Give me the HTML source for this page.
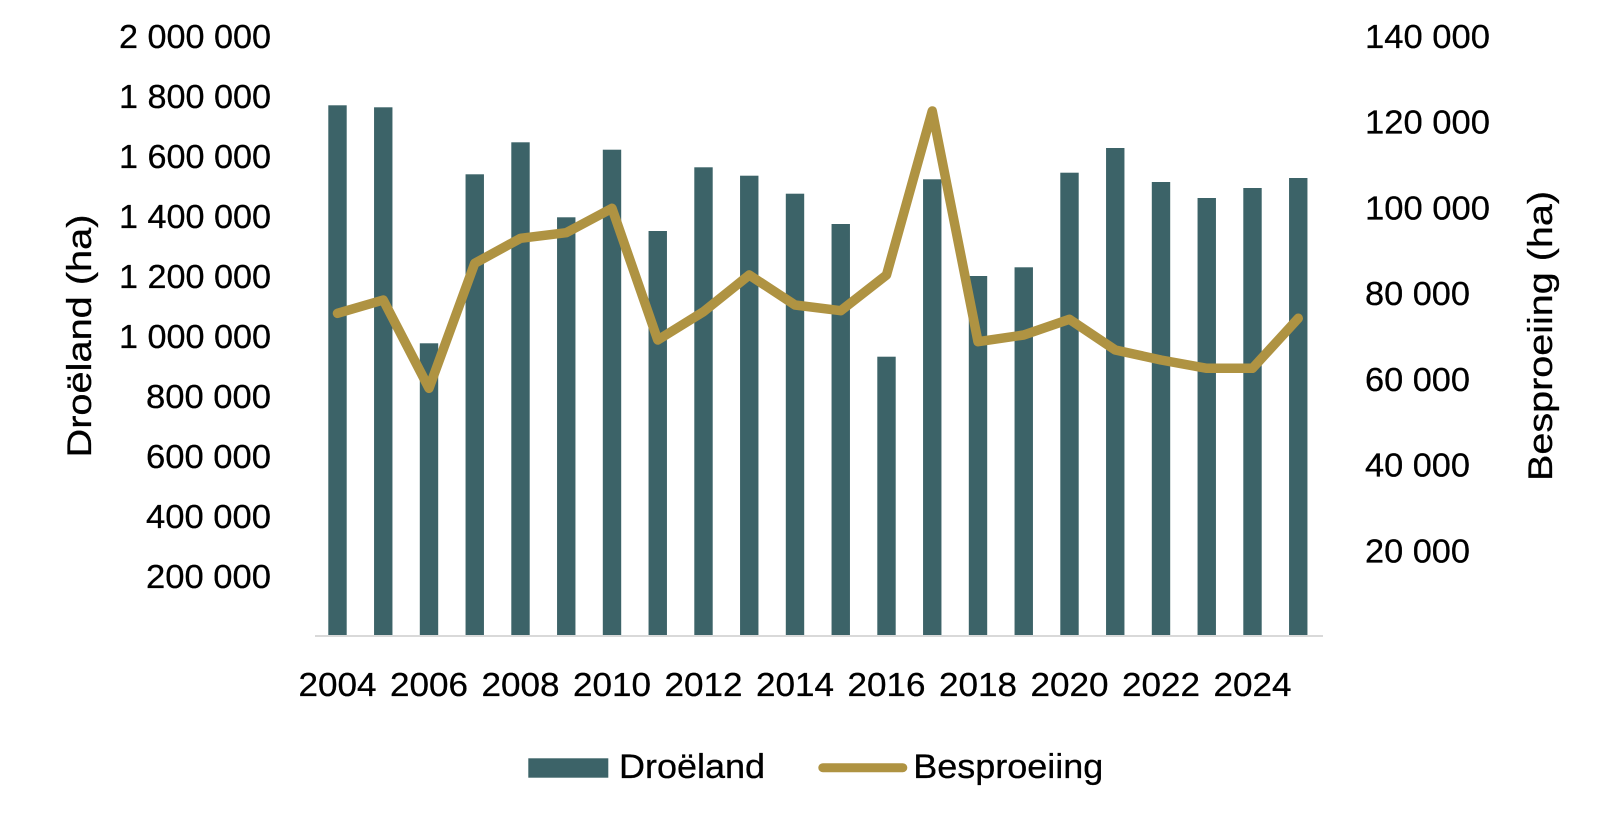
<!DOCTYPE html>
<html>
<head>
<meta charset="utf-8">
<style>
  html, body { margin: 0; padding: 0; background: #ffffff; }
  svg { display: block; }
  text { font-family: "Liberation Sans", "DejaVu Sans", sans-serif; fill: #000; stroke: #000; stroke-width: 0.3px; }
</style>
</head>
<body>
<svg width="1612" height="824" viewBox="0 0 1612 824" xmlns="http://www.w3.org/2000/svg">
  <rect x="0" y="0" width="1612" height="824" fill="#ffffff"/>

  <!-- Bars -->
  <g fill="#3C6368">
    <rect x="328.3" y="105.3" width="18.4" height="530.7"/>
    <rect x="374.05" y="107.3" width="18.4" height="528.7"/>
    <rect x="419.8" y="343.3" width="18.4" height="292.7"/>
    <rect x="465.55" y="174.3" width="18.4" height="461.7"/>
    <rect x="511.3" y="142.3" width="18.4" height="493.7"/>
    <rect x="557.05" y="217.3" width="18.4" height="418.7"/>
    <rect x="602.8" y="149.7" width="18.4" height="486.3"/>
    <rect x="648.55" y="231" width="18.4" height="405"/>
    <rect x="694.3" y="167.3" width="18.4" height="468.7"/>
    <rect x="740.05" y="175.7" width="18.4" height="460.3"/>
    <rect x="785.8" y="193.7" width="18.4" height="442.3"/>
    <rect x="831.55" y="224" width="18.4" height="412"/>
    <rect x="877.3" y="356.7" width="18.4" height="279.3"/>
    <rect x="923.05" y="179.3" width="18.4" height="456.7"/>
    <rect x="968.8" y="276" width="18.4" height="360"/>
    <rect x="1014.55" y="267.3" width="18.4" height="368.7"/>
    <rect x="1060.3" y="172.7" width="18.4" height="463.3"/>
    <rect x="1106.05" y="148" width="18.4" height="488"/>
    <rect x="1151.8" y="182" width="18.4" height="454"/>
    <rect x="1197.55" y="198" width="18.4" height="438"/>
    <rect x="1243.3" y="188" width="18.4" height="448"/>
    <rect x="1289.05" y="178" width="18.4" height="458"/>
  </g>

  <!-- X axis line -->
  <line x1="315" y1="636" x2="1323" y2="636" stroke="#d9d9d9" stroke-width="2"/>

  <!-- Line series -->
  <polyline fill="none" stroke="#AF9342" stroke-width="9.5" stroke-linejoin="round" stroke-linecap="round"
    points="337.5,313.3 383.25,300 429,388.3 474.75,263.3 520.5,238.3 566.25,232.7 612,208.3 657.75,340 703.5,311.7 749.25,275 795,305 840.75,310.7 886.5,275 932.25,111 978,341.7 1023.75,335 1069.5,319.3 1115.25,350 1161,360 1206.75,368.3 1252.5,368.3 1298.25,318.3"/>

  <!-- Left Y tick labels -->
  <g font-size="33.5" text-anchor="end">
    <text x="271" y="48" textLength="152" lengthAdjust="spacingAndGlyphs">2 000 000</text>
    <text x="271" y="108" textLength="152" lengthAdjust="spacingAndGlyphs">1 800 000</text>
    <text x="271" y="168" textLength="152" lengthAdjust="spacingAndGlyphs">1 600 000</text>
    <text x="271" y="228" textLength="152" lengthAdjust="spacingAndGlyphs">1 400 000</text>
    <text x="271" y="288" textLength="152" lengthAdjust="spacingAndGlyphs">1 200 000</text>
    <text x="271" y="348" textLength="152" lengthAdjust="spacingAndGlyphs">1 000 000</text>
    <text x="271" y="408" textLength="125" lengthAdjust="spacingAndGlyphs">800 000</text>
    <text x="271" y="468" textLength="125" lengthAdjust="spacingAndGlyphs">600 000</text>
    <text x="271" y="528" textLength="125" lengthAdjust="spacingAndGlyphs">400 000</text>
    <text x="271" y="588" textLength="125" lengthAdjust="spacingAndGlyphs">200 000</text>
  </g>

  <!-- Right Y tick labels -->
  <g font-size="33.5" text-anchor="start">
    <text x="1365" y="48" textLength="125" lengthAdjust="spacingAndGlyphs">140 000</text>
    <text x="1365" y="133.7" textLength="125" lengthAdjust="spacingAndGlyphs">120 000</text>
    <text x="1365" y="219.4" textLength="125" lengthAdjust="spacingAndGlyphs">100 000</text>
    <text x="1365" y="305.1" textLength="105" lengthAdjust="spacingAndGlyphs">80 000</text>
    <text x="1365" y="390.9" textLength="105" lengthAdjust="spacingAndGlyphs">60 000</text>
    <text x="1365" y="476.6" textLength="105" lengthAdjust="spacingAndGlyphs">40 000</text>
    <text x="1365" y="562.3" textLength="105" lengthAdjust="spacingAndGlyphs">20 000</text>
  </g>

  <!-- X tick labels -->
  <g font-size="33.5" text-anchor="middle">
    <text x="337.5" y="696" textLength="78" lengthAdjust="spacingAndGlyphs">2004</text>
    <text x="429" y="696" textLength="78" lengthAdjust="spacingAndGlyphs">2006</text>
    <text x="520.5" y="696" textLength="78" lengthAdjust="spacingAndGlyphs">2008</text>
    <text x="612" y="696" textLength="78" lengthAdjust="spacingAndGlyphs">2010</text>
    <text x="703.5" y="696" textLength="78" lengthAdjust="spacingAndGlyphs">2012</text>
    <text x="795" y="696" textLength="78" lengthAdjust="spacingAndGlyphs">2014</text>
    <text x="886.5" y="696" textLength="78" lengthAdjust="spacingAndGlyphs">2016</text>
    <text x="978" y="696" textLength="78" lengthAdjust="spacingAndGlyphs">2018</text>
    <text x="1069.5" y="696" textLength="78" lengthAdjust="spacingAndGlyphs">2020</text>
    <text x="1161" y="696" textLength="78" lengthAdjust="spacingAndGlyphs">2022</text>
    <text x="1252.5" y="696" textLength="78" lengthAdjust="spacingAndGlyphs">2024</text>
  </g>

  <!-- Axis titles -->
  <text font-size="34.5" text-anchor="middle" transform="translate(91,336) rotate(-90)" textLength="243" lengthAdjust="spacingAndGlyphs">Droëland (ha)</text>
  <text font-size="34.5" text-anchor="middle" transform="translate(1552,336) rotate(-90)" textLength="290" lengthAdjust="spacingAndGlyphs">Besproeiing (ha)</text>

  <!-- Legend -->
  <rect x="528.3" y="758.3" width="80" height="19.4" fill="#3C6368"/>
  <text x="619" y="778" font-size="34.5" textLength="146" lengthAdjust="spacingAndGlyphs">Droëland</text>
  <line x1="822.8" y1="767.7" x2="902.8" y2="767.7" stroke="#AF9342" stroke-width="9" stroke-linecap="round"/>
  <text x="913.3" y="778" font-size="34.5" textLength="190" lengthAdjust="spacingAndGlyphs">Besproeiing</text>
</svg>
</body>
</html>
